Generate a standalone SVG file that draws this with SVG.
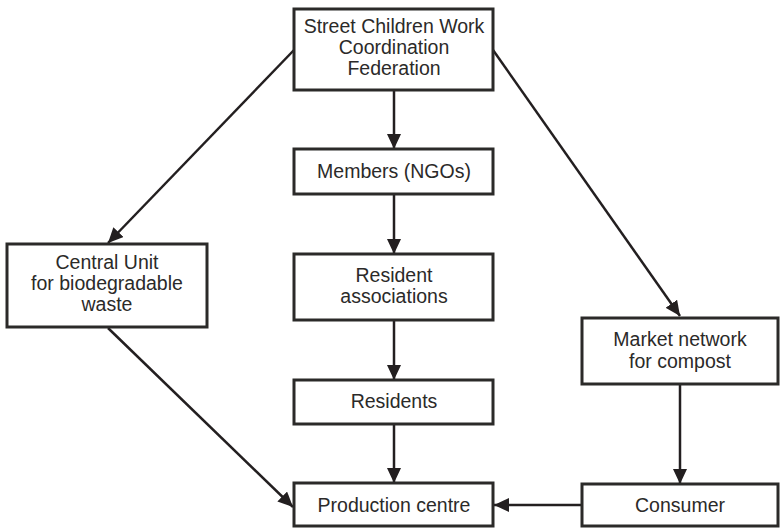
<svg xmlns="http://www.w3.org/2000/svg" width="780" height="528" viewBox="0 0 780 528">
<style>
.box{fill:#fff;stroke:#2b2a29;stroke-width:3}
.t{font-family:"Liberation Sans",Arial,sans-serif;font-size:19.5px;fill:#2b2a29;text-anchor:middle}
.c{stroke:#231f20;stroke-width:2.5;fill:none;marker-end:url(#ah)}
</style>
<defs>
<marker id="ah" markerUnits="userSpaceOnUse" markerWidth="16" markerHeight="14" refX="15" refY="7" orient="auto">
<path d="M0,0 L15,7 L0,14 z" fill="#231f20"/>
</marker>
</defs>
<rect width="780" height="528" fill="#fff"/>
<g id="connectors">
<line class="c" x1="394" y1="90" x2="394" y2="149"/>
<line class="c" x1="394" y1="194" x2="394" y2="254"/>
<line class="c" x1="394" y1="320" x2="394" y2="380"/>
<line class="c" x1="394" y1="424" x2="394" y2="483"/>
<line class="c" x1="294" y1="50" x2="108" y2="243"/>
<line class="c" x1="493" y1="50" x2="680" y2="316"/>
<line class="c" x1="108" y1="328" x2="293" y2="507"/>
<line class="c" x1="680" y1="384" x2="680" y2="484"/>
<line class="c" x1="581" y1="505" x2="494" y2="505"/>
</g>
<g id="federation">
<rect class="box" x="294" y="9" width="199" height="81"/>
<text class="t" x="394" y="33">Street Children Work</text>
<text class="t" x="394" y="54">Coordination</text>
<text class="t" x="394" y="75">Federation</text>
</g>
<g id="members">
<rect class="box" x="294" y="149" width="199" height="45"/>
<text class="t" x="394" y="178">Members (NGOs)</text>
</g>
<g id="resident-associations">
<rect class="box" x="294" y="254" width="199" height="66"/>
<text class="t" x="394" y="282">Resident</text>
<text class="t" x="394" y="303">associations</text>
</g>
<g id="residents">
<rect class="box" x="294" y="380" width="199" height="44"/>
<text class="t" x="394" y="408">Residents</text>
</g>
<g id="production-centre">
<rect class="box" x="294" y="483" width="199" height="43"/>
<text class="t" x="394" y="512">Production centre</text>
</g>
<g id="central-unit">
<rect class="box" x="7" y="244" width="200" height="83"/>
<text class="t" x="107" y="269">Central Unit</text>
<text class="t" x="107" y="290">for biodegradable</text>
<text class="t" x="107" y="311">waste</text>
</g>
<g id="market-network">
<rect class="box" x="582" y="318" width="196" height="66"/>
<text class="t" x="680" y="346">Market network</text>
<text class="t" x="680" y="368">for compost</text>
</g>
<g id="consumer">
<rect class="box" x="582" y="484" width="196" height="42"/>
<text class="t" x="680" y="512">Consumer</text>
</g>
</svg>
